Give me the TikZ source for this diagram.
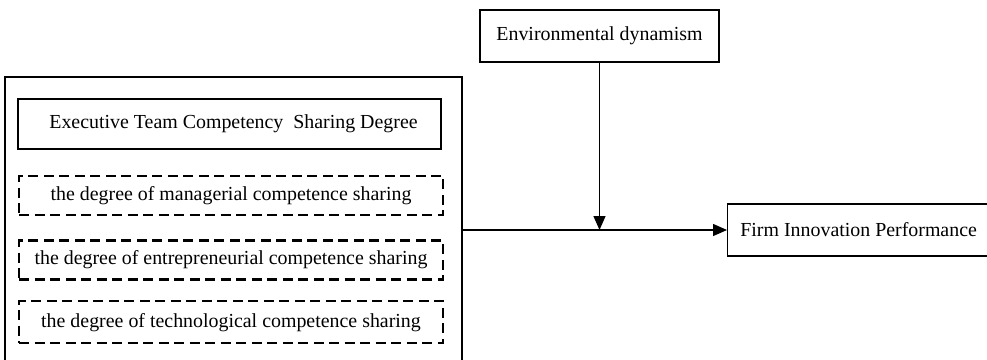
\documentclass[tikz,border=0pt]{standalone}
\usepackage{fontspec}
\setmainfont{Liberation Serif}
\usetikzlibrary{positioning,arrows.meta}

\tikzset{
  solidbox/.style={draw, line width=1.3pt, rectangle, inner sep=0pt},
  dashbox/.style={draw, line width=2.6pt, dash pattern=on 10pt off 5.5pt, rectangle,
    inner sep=0pt, minimum width=424pt, minimum height=39pt},
  link/.style={line width=1.3pt, -{Triangle[length=14pt,width=12pt]}},
}

\begin{document}
\begin{tikzpicture}[x=1pt,y=-1pt,font=\fontsize{19.9}{23}\selectfont]
 \useasboundingbox (0,0) rectangle (987,359);
 \clip (0,0) rectangle (987,359);
 % left block
 \node [solidbox, minimum width=457pt, minimum height=300pt] (outer) at (233.5,227) {};
 \node [solidbox, minimum width=423pt, minimum height=50pt] (team) at (229.5,124)
   {\hspace*{8pt}Executive Team Competency\ \ Sharing Degree};
 \node [dashbox, below=25pt of team.south, anchor=north, xshift=1.5pt] (manag)
   {the degree of managerial competence sharing};
 \node [dashbox, below=23pt of manag] (entre)
   {the degree of entrepreneurial competence sharing};
 \node [dashbox, below=19pt of entre, minimum height=42pt] (techno)
   {the degree of technological competence sharing};
 % moderator and outcome
 \node [solidbox, minimum width=239pt, minimum height=52pt] (env) at (599.5,36)
   {Environmental dynamism};
 \node [solidbox, minimum width=262pt, minimum height=52pt, anchor=west] (firm) at (727,230)
   {Firm Innovation Performance};
 \coordinate (joint) at (env.south |- firm.west);
 \draw [link] (outer.east |- firm.west) -- (firm.west);
 \draw [link] (env.south) -- (joint);
\end{tikzpicture}
\end{document}
